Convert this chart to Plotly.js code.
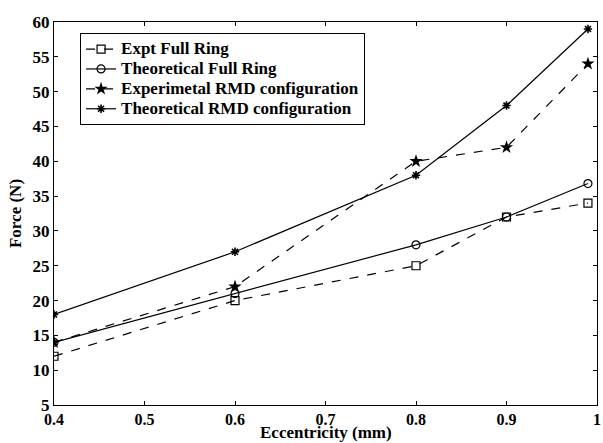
<!DOCTYPE html>
<html>
<head>
<script src="https://cdn.plot.ly/plotly-3.0.1.min.js"></script>
<style>body{margin:0;padding:0;background:#fff}#chart{width:603px;height:443px}</style>
</head>
<body>
<div id="chart"></div>
<script>
const eccentricity = [0.4, 0.6, 0.8, 0.9, 0.99];
const exptFullRing = [12, 20, 25, 32, 34];
const theoFullRing = [14, 21, 28, 32, 36.8];
const exptRMD = [14, 22, 40, 42, 54];
const theoRMD = [18, 27, 38, 48, 59];
const names = ["Expt Full Ring", "Theoretical Full Ring", "Experimetal RMD configuration", "Theoretical RMD configuration"];
const xTicks = [0.4, 0.5, 0.6, 0.7, 0.8, 0.9, 1];
const yTicks = [5, 10, 15, 20, 25, 30, 35, 40, 45, 50, 55, 60];
const xTitle = "Eccentricity (mm)";
const yTitle = "Force (N)";

const fam = "'Liberation Serif', 'Times New Roman', Times, serif";
const b = s => "<b>" + s + "</b>";
const lg = s => '<span style="font-size:17px"><b>' + s + '</b></span>';
const traces = [
  {x: eccentricity, y: exptFullRing, name: lg(names[0]), mode: "lines+markers",
   line: {color: "#000", width: 1.2, dash: "dash"},
   marker: {symbol: "square-open", size: 8, color: "#000", line: {width: 1.2}}},
  {x: eccentricity, y: theoFullRing, name: lg(names[1]), mode: "lines+markers",
   line: {color: "#000", width: 1.2},
   marker: {symbol: "circle-open", size: 8, color: "#000", line: {width: 1.2}}},
  {x: eccentricity, y: exptRMD, name: lg(names[2]), mode: "lines+markers",
   line: {color: "#000", width: 1.2, dash: "dash"},
   marker: {symbol: "star", size: 10, color: "#000", line: {width: 0}}},
  {x: eccentricity, y: theoRMD, name: lg(names[3]), mode: "lines+markers",
   line: {color: "#000", width: 1.2},
   marker: {symbol: "asterisk-open", size: 7, color: "#000", line: {width: 1.6, color: "#000"}}}
];
const layout = {
  width: 603, height: 443,
  margin: {l: 54, r: 6, t: 22, b: 38},
  paper_bgcolor: "#fff", plot_bgcolor: "#fff",
  font: {family: fam, size: 14, color: "#000"},
  showlegend: true,
  legend: {x: 0.048, y: 0.971, xanchor: "left", yanchor: "top",
    bgcolor: "#fff", bordercolor: "#000", borderwidth: 1,
    font: {family: fam, size: 13, color: "#000"},
    tracegroupgap: 0, itemwidth: 30},
  xaxis: {range: [0.4, 1], tickvals: xTicks, ticktext: xTicks.map(v => b(String(v))),
    ticks: "inside", ticklen: 4, tickcolor: "#000", showline: true, linecolor: "#000", linewidth: 1,
    mirror: "ticks", showgrid: false, zeroline: false,
    tickfont: {family: fam, size: 16, color: "#000"}},
  yaxis: {range: [5, 60], tickvals: yTicks, ticktext: yTicks.map(v => b(String(v))),
    ticks: "inside", ticklen: 4, tickcolor: "#000",
    showline: true, linecolor: "#000", linewidth: 1, mirror: "ticks", showgrid: false, zeroline: false,
    tickfont: {family: fam, size: 17, color: "#000"},
    title: {text: b(yTitle), standoff: 6, font: {family: fam, size: 17, color: "#000"}}},
  annotations: [{text: b(xTitle), xref: "paper", yref: "paper", x: 0.5, y: -0.1, yshift: -1,
    xanchor: "center", yanchor: "bottom", showarrow: false,
    font: {family: fam, size: 17, color: "#000"}}]
};
Plotly.newPlot("chart", traces, layout, {displayModeBar: false, staticPlot: true});
</script>
</body>
</html>
